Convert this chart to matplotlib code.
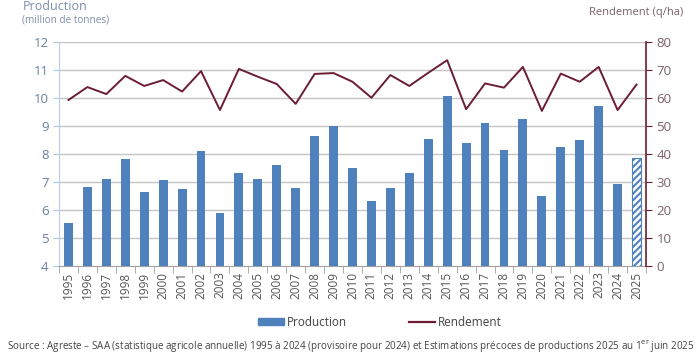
import matplotlib
matplotlib.use("Agg")
import matplotlib.pyplot as plt
import numpy as np
from matplotlib.patches import Patch
from matplotlib.lines import Line2D

plt.rcParams['font.family'] = ['Open Sans', 'DejaVu Sans']

years = [str(y) for y in range(1995, 2026)]
production = [5.55, 6.81, 7.12, 7.81, 6.63, 7.08, 6.75, 8.09, 5.88, 7.33,
              7.12, 7.61, 6.79, 8.64, 9.00, 7.51, 6.33, 6.80, 7.31, 8.52,
              10.08, 8.40, 9.11, 8.16, 9.25, 6.51, 8.24, 8.49, 9.71, 6.92, 7.85]
rendement = [59.3, 63.9, 61.4, 67.9, 64.3, 66.4, 62.3, 69.6, 55.7, 70.4,
             67.6, 65.0, 57.9, 68.6, 68.9, 65.8, 60.1, 68.2, 64.3, 69.0,
             73.5, 56.0, 65.2, 63.7, 71.1, 55.4, 68.7, 65.8, 71.1, 55.7, 64.8]

bar_color = '#4f81bd'
line_color = '#6b1d33'
left_col = '#6a7f9e'
right_col = '#7a6068'

plt.rcParams['hatch.color'] = bar_color
plt.rcParams['hatch.linewidth'] = 1.5

fig = plt.figure(figsize=(7, 3.62), dpi=100)
ax = fig.add_axes([59/700, 1-266/362, (646-59)/700, (266-42)/362])
ax2 = ax.twinx()

x = np.arange(len(years))
for i, v in enumerate(production):
    if i == len(years) - 1:
        ax.bar(x[i], v - 4, bottom=4, width=0.47, color='white', edgecolor=bar_color,
               hatch='/////', linewidth=0.8, zorder=3)
    else:
        ax.bar(x[i], v - 4, bottom=4, width=0.47, color=bar_color, zorder=3)

ax.set_ylim(4, 12)
ax.set_xlim(-0.5, len(years) - 0.5)
ax.set_yticks(range(4, 13))
ax.set_xticks(x)
ax.set_xticklabels(years, rotation=90, fontsize=8.5, color='#555555')
ax.tick_params(axis='x', length=0, pad=4)
ax.set_xticks(np.arange(-0.5, len(years)), minor=True)
ax.tick_params(axis='x', which='minor', length=5, color='#a0a0a0')
ax.tick_params(axis='y', length=4, colors=left_col, labelsize=9.5, color='#b0c4de')
for yv in range(5, 13):
    ax.axhline(yv, color='#c4c4c4', linewidth=1, zorder=1)
for s in ['top', 'right']:
    ax.spines[s].set_visible(False)
ax.spines['left'].set_color('#b8cce4')
ax.spines['bottom'].set_color('#a0a0a0')

ax2.plot(x, rendement, color=line_color, linewidth=1.4, zorder=4)
ax2.set_ylim(0, 80)
ax2.set_yticks(range(0, 81, 10))
ax2.tick_params(axis='y', length=4, colors=right_col, labelsize=9.5, color=line_color)
for s in ['top', 'left', 'bottom']:
    ax2.spines[s].set_visible(False)
ax2.spines['right'].set_color(line_color)
ax2.spines['right'].set_linewidth(1.2)

fig.text(23/700, 1-6/362, 'Production', fontsize=9, color='#7f8ea8', va='center')
fig.text(22/700, 1-20/362, '(million de tonnes)', fontsize=7.2, color='#7f8ea8', va='center')
fig.text(683/700, 1-13/362, 'Rendement (q/ha)', fontsize=8, color='#7a6068', va='center', ha='right')

handles = [Patch(facecolor=bar_color, edgecolor=bar_color),
           Line2D([0], [0], color=line_color, linewidth=1.6)]
fig.legend(handles, ['Production', 'Rendement'], loc='center',
           bbox_to_anchor=(380/700, 1-322/362), ncol=2, frameon=False,
           fontsize=8.5, handlelength=2.2, handleheight=0.55, handletextpad=0.25,
           columnspacing=5.2, labelcolor='#444444')

fig.text(351/700, 1-347/362,
         'Source : Agreste \u2013 SAA (statistique agricole annuelle) 1995 \u00e0 2024 (provisoire pour 2024) et Estimations pr\u00e9coces de productions 2025 au 1$^{\\rm er}$ juin 2025',
         fontsize=7.1, color='#444444', ha='center', va='center')

fig.savefig('out.png', dpi=100)
